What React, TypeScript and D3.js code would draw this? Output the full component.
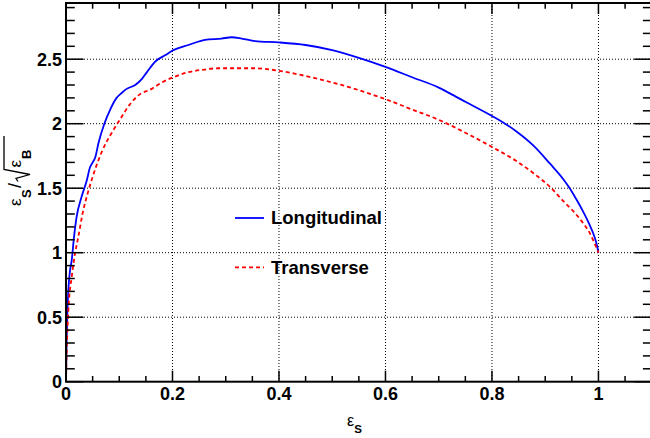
import React from "react";
import * as d3 from "d3";

const longX = [0, 0.0012, 0.0025, 0.0044, 0.0075, 0.0107, 0.015, 0.02, 0.029, 0.039, 0.045, 0.05, 0.055, 0.061, 0.072, 0.083, 0.095, 0.105, 0.114, 0.13, 0.143, 0.152, 0.167, 0.186, 0.2015, 0.23, 0.261, 0.292, 0.311, 0.33, 0.355, 0.4, 0.45, 0.5, 0.55, 0.6, 0.65, 0.7, 0.721, 0.75, 0.8, 0.821, 0.846, 0.878, 0.909, 0.934, 0.946, 0.959, 0.971, 0.984, 0.992, 0.997, 1.0];
const longY = [0, 0.32, 0.53, 0.71, 0.86, 0.94, 1.12, 1.28, 1.43, 1.56, 1.66, 1.7, 1.74, 1.85, 2.0, 2.11, 2.2, 2.24, 2.27, 2.3, 2.35, 2.4, 2.48, 2.53, 2.57, 2.61, 2.65, 2.66, 2.67, 2.66, 2.64, 2.63, 2.61, 2.57, 2.51, 2.44, 2.36, 2.28, 2.235, 2.17, 2.06, 2.01, 1.94, 1.83, 1.69, 1.57, 1.5, 1.41, 1.32, 1.21, 1.13, 1.06, 1.0];

const transX = [0, 0.0012, 0.003, 0.0056, 0.0107, 0.017, 0.023, 0.0325, 0.04, 0.051, 0.067, 0.086, 0.101, 0.12, 0.136, 0.161, 0.18, 0.2015, 0.23, 0.261, 0.286, 0.324, 0.355, 0.4, 0.45, 0.5, 0.55, 0.6, 0.65, 0.7, 0.721, 0.75, 0.8, 0.846, 0.88, 0.909, 0.934, 0.953, 0.971, 0.984, 0.993, 1.0];
const transY = [0, 0.22, 0.43, 0.63, 0.81, 0.995, 1.12, 1.33, 1.45, 1.6, 1.78, 1.93, 2.03, 2.15, 2.22, 2.27, 2.32, 2.36, 2.4, 2.42, 2.43, 2.43, 2.43, 2.41, 2.37, 2.32, 2.26, 2.19, 2.11, 2.03, 1.99, 1.93, 1.82, 1.71, 1.61, 1.51, 1.4, 1.32, 1.23, 1.15, 1.07, 1.0];

const xMajor = [0, 0.2, 0.4, 0.6, 0.8, 1];
const xMajorLabels = ["0", "0.2", "0.4", "0.6", "0.8", "1"];
const yMajor = [0, 0.5, 1, 1.5, 2, 2.5];
const yMajorLabels = ["0", "0.5", "1", "1.5", "2", "2.5"];

const legendNames = ["Longitudinal", "Transverse"];

const W = 650;
const H = 438;
const L = 66, R = 651.7, T = 3, B = 381.7;

export default function App() {
  const x = d3.scaleLinear().domain([0, 1.1]).range([L, R]);
  const y = d3.scaleLinear().domain([0, (B - T) / 129]).range([B, T]);
  const xMinor = d3.range(0, 1.1001, 0.05).map((v) => +v.toFixed(3));
  const yMinor = d3.range(0, 2.9501, 0.1).map((v) => +v.toFixed(3)).filter((v) => y(v) >= T);

  const line = d3.line<[number, number]>().x((d) => x(d[0])).y((d) => y(d[1])).curve(d3.curveMonotoneX);
  const longPts = longX.map((v, i) => [v, longY[i]] as [number, number]);
  const transPts = transX.map((v, i) => [v, transY[i]] as [number, number]);

  const font = "'Liberation Sans', Arial, Helvetica, sans-serif";
  const xTickMaj = 11, xTickMin = 5.7, yTickMaj = 17.5, yTickMin = 8.8;

  return (
    <svg width={W} height={H} style={{ position: "absolute", left: 0, top: 0 }} fontFamily={font}>
      <rect x={0} y={0} width={W} height={H} fill="white" />
      {xMajor.filter((v) => v > 0).map((v) => (
        <line key={"gx" + v} x1={x(v)} x2={x(v)} y1={T} y2={B} stroke="black" strokeWidth={1} strokeDasharray="1,2" />
      ))}
      {yMajor.filter((v) => v > 0).map((v) => (
        <line key={"gy" + v} x1={L} x2={R} y1={y(v)} y2={y(v)} stroke="black" strokeWidth={1} strokeDasharray="1,2" />
      ))}
      <path d={line(longPts) || ""} fill="none" stroke="#0000ff" strokeWidth={1.8} />
      <path d={line(transPts) || ""} fill="none" stroke="#ff0000" strokeWidth={1.8} strokeDasharray="4,3" />
      <rect x={L} y={T} width={R - L} height={B - T} fill="none" stroke="black" strokeWidth={2} />
      {xMinor.map((v) => {
        const maj = Math.abs(Math.round(v * 5) - v * 5) < 1e-6;
        const len = maj ? xTickMaj : xTickMin;
        return (
          <g key={"xt" + v}>
            <line x1={x(v)} x2={x(v)} y1={B} y2={B - len} stroke="black" strokeWidth={1.5} />
            <line x1={x(v)} x2={x(v)} y1={T} y2={T + len} stroke="black" strokeWidth={1.5} />
          </g>
        );
      })}
      {yMinor.map((v) => {
        const maj = Math.abs(Math.round(v * 2) - v * 2) < 1e-6;
        const len = maj ? yTickMaj : yTickMin;
        return (
          <g key={"yt" + v}>
            <line x1={L} x2={L + len} y1={y(v)} y2={y(v)} stroke="black" strokeWidth={1.5} />
            <line x1={R} x2={R - len} y1={y(v)} y2={y(v)} stroke="black" strokeWidth={1.5} />
          </g>
        );
      })}
      {xMajor.map((v, i) => (
        <text key={"xl" + v} x={x(v)} y={399.5} textAnchor="middle" fontSize={18} fontWeight="bold">{xMajorLabels[i]}</text>
      ))}
      {yMajor.map((v, i) => (
        <text key={"yl" + v} x={62} y={y(v) + 6.4} textAnchor="end" fontSize={18} fontWeight="bold">{yMajorLabels[i]}</text>
      ))}
      <text x={347} y={426} fontSize={16}>
        ε<tspan fontSize={11.5} fontWeight="bold" dy={6.5}>S</tspan>
      </text>
      <g transform="translate(21,206) rotate(-90)">
        <text x={0} y={0} fontSize={17}>ε</text>
        <text x={8} y={10} fontSize={13} fontWeight="bold">S</text>
        <text x={18} y={0} fontSize={18}>/</text>
        <path d="M24.5,-3 L27.5,-5 L31.5,9 L36.5,-17 L70,-17" fill="none" stroke="black" strokeWidth={1.3} />
        <text x={38.5} y={0} fontSize={17}>ε</text>
        <text x={47} y={10} fontSize={13} fontWeight="bold">B</text>
      </g>
      <line x1={235} x2={264} y1={218} y2={218} stroke="#0000ff" strokeWidth={1.8} />
      <text x={271} y={223.5} fontSize={18.5} fontWeight="bold">{legendNames[0]}</text>
      <line x1={235} x2={264} y1={267.3} y2={267.3} stroke="#ff0000" strokeWidth={1.8} strokeDasharray="4,3" />
      <text x={271} y={273.5} fontSize={18.5} fontWeight="bold">{legendNames[1]}</text>
    </svg>
  );
}
